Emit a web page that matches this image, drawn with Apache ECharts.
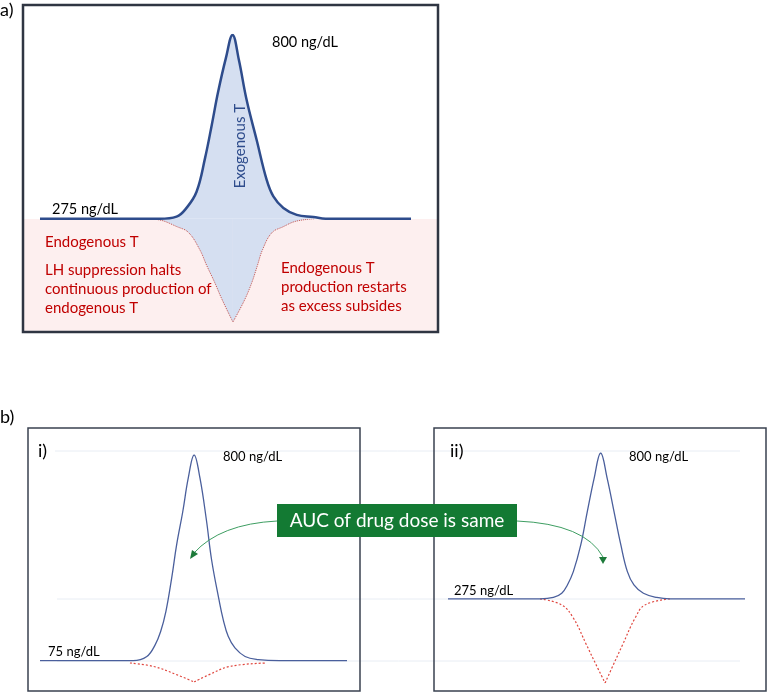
<!DOCTYPE html>
<html>
<head>
<meta charset="utf-8">
<script src="https://cdn.jsdelivr.net/npm/echarts@6/dist/echarts.min.js"></script>
<style>
  html, body { margin: 0; padding: 0; background: #fff; }
  #chart { width: 768px; height: 693px; }
</style>
</head>
<body>
<div id="chart"></div>
<script>
// panel a: total T with exogenous dose (time in arbitrary units, T in ng/dL)
const aExoT = [0, 32.3, 36.8, 39.5, 42.2, 44.5, 46.3, 48, 50.1, 51.9, 53.6, 55.7, 58.4, 61.1, 62.9, 65.6, 69.2, 73.7, 77, 100];
const aExoV = [275, 275, 281, 306, 352, 449, 543, 637, 734, 800, 729, 614, 500, 386, 339, 306, 286, 280, 275, 275];
// panel a: endogenous T suppressed during the peak
const aDipT = [28, 32, 37, 40, 43, 45, 47, 49, 52, 55, 57, 58.5, 60, 62.5, 65.5, 69, 74];
const aDipV = [275, 272, 252, 236, 188, 140, 95, 46, -20, 40, 90, 138, 187, 235, 252, 268, 275];

// panel b i) baseline 75 ng/dL
const iExoT = [0, 30.3, 34.8, 37.5, 39.3, 41, 42.9, 44.5, 46.5, 48.3, 50.2, 52.1, 54.2, 55.9, 58.3, 59.7, 61.3, 63.5, 66.8, 71.1, 78, 100];
const iExoV = [75, 75, 90, 131, 178, 248, 367, 483, 600, 719, 800, 719, 571, 430, 290, 219, 161, 120, 90, 79, 75, 75];
const iDipT = [29.3, 36.9, 44.5, 50.2, 55.1, 61.9, 73.8];
const iDipV = [67, 55, 26, 0, 26, 55, 67];

// panel b ii) baseline 275 ng/dL
const iiExoT = [0, 31, 35.5, 38.3, 40.2, 42.2, 44.7, 46.9, 49.2, 51.4, 53.6, 55.9, 58.2, 60.4, 62.6, 65.8, 70.3, 74.7, 100];
const iiExoV = [275, 275, 280, 295, 325, 373, 469, 589, 709, 800, 709, 589, 469, 373, 325, 295, 280, 275, 275];
const iiDipT = [31, 38.3, 42.2, 46.6, 49.3, 52.9, 56.2, 58.8, 63, 66.3, 74.7];
const iiDipV = [275, 253, 206, 110, 50, -28, 50, 110, 206, 253, 275];

const zip = (t, v) => t.map((x, i) => [x, v[i]]);
// the dips have a sharp bottom: draw each side as its own smooth line meeting at the minimum
function halves(t, v) {
  const k = v.indexOf(Math.min(...v));
  const pts = zip(t, v);
  return [pts.slice(0, k + 1), pts.slice(k)];
}

const FONT = 'Lato, "Open Sans", sans-serif';
const navy = '#2E4C8C';
const bLine = '#4A5F9C';
const red = '#C00000';
const fillBlue = '#D5DFF1';

const myChart = echarts.init(document.getElementById('chart'), null, { renderer: 'canvas' });

function hiddenX(idx) {
  return { gridIndex: idx, type: 'value', min: 0, max: 100, show: false };
}
function hiddenY(idx, min, max) {
  return { gridIndex: idx, type: 'value', min: min, max: max, show: false };
}
function txt(text, x, y, size, color) {
  return {
    type: 'text', x: x, y: y, z: 50,
    style: { text: text, fill: color || '#000', fontSize: size, fontFamily: FONT, textVerticalAlign: 'middle' }
  };
}

const graphic = [
  // pink endogenous zone + frame of panel a
  { type: 'rect', z: -10, shape: { x: 24, y: 219, width: 414, height: 113 }, style: { fill: '#FDEFEF' } },
  { type: 'rect', z: 40, shape: { x: 23, y: 5, width: 415, height: 327 }, style: { fill: 'none', stroke: '#2F3542', lineWidth: 2.5 } },
  // faint guide lines in b
  { type: 'line', z: -5, shape: { x1: 55, y1: 451, x2: 740, y2: 451 }, style: { stroke: '#E8EDF4', lineWidth: 1 } },
  { type: 'line', z: -5, shape: { x1: 57, y1: 599, x2: 740, y2: 599 }, style: { stroke: '#E8EDF4', lineWidth: 1 } },
  { type: 'line', z: -5, shape: { x1: 57, y1: 661, x2: 740, y2: 661 }, style: { stroke: '#E8EDF4', lineWidth: 1 } },
  // frames of panels b
  { type: 'rect', z: 40, shape: { x: 28, y: 428, width: 332, height: 263 }, style: { fill: 'none', stroke: '#3A4250', lineWidth: 1.5 } },
  { type: 'rect', z: 40, shape: { x: 434, y: 428, width: 332, height: 263 }, style: { fill: 'none', stroke: '#3A4250', lineWidth: 1.5 } },
  // AUC call-out
  { type: 'bezierCurve', z: 45, shape: { x1: 277, y1: 521, cpx1: 220, cpy1: 524, x2: 194, y2: 553 }, style: { stroke: '#3E9E62', lineWidth: 1, fill: 'none' } },
  { type: 'polygon', z: 45, shape: { points: [[190, 559], [192, 550], [198, 554]] }, style: { fill: '#1D7A3A' } },
  { type: 'bezierCurve', z: 45, shape: { x1: 517, y1: 521, cpx1: 585, cpy1: 524, x2: 603, y2: 557 }, style: { stroke: '#3E9E62', lineWidth: 1, fill: 'none' } },
  { type: 'polygon', z: 45, shape: { points: [[599, 557], [607, 557], [603, 564]] }, style: { fill: '#1D7A3A' } },
  { type: 'rect', z: 46, shape: { x: 277, y: 504, width: 240, height: 33 }, style: { fill: '#137A33' } },
  { type: 'text', x: 397, y: 521, z: 47,
    style: { text: 'AUC of drug dose is same', fill: '#fff', fontSize: 19, fontFamily: FONT, textAlign: 'center', textVerticalAlign: 'middle' } },
  // labels
  txt('a)', 0, 10, 18),
  txt('b)', 0, 417, 18),
  txt('800 ng/dL', 272, 42, 14.5),
  txt('275 ng/dL', 52, 209, 14.5),
  { type: 'text', x: 240, y: 146, z: 50, rotation: Math.PI / 2,
    style: { text: 'Exogenous T', fill: navy, fontSize: 15, fontFamily: FONT, textAlign: 'center', textVerticalAlign: 'middle' } },
  txt('Endogenous T', 45, 242, 15, red),
  txt('LH suppression halts', 45, 270, 15, red),
  txt('continuous production of', 45, 289, 15, red),
  txt('endogenous T', 45, 308, 15, red),
  txt('Endogenous T', 281, 268, 15, red),
  txt('production restarts', 281, 287, 15, red),
  txt('as excess subsides', 281, 306, 15, red),
  txt('i)', 38, 451, 18),
  txt('800 ng/dL', 223, 457, 13),
  txt('75 ng/dL', 48, 652, 13),
  txt('ii)', 450, 451, 18),
  txt('800 ng/dL', 629, 457, 13),
  txt('275 ng/dL', 454, 591, 13)
];

const SMOOTH = 0.4;
const series = [];

halves(aDipT, aDipV).forEach((d, i) => series.push({
  name: 'Endogenous T (a)', id: 'aDip' + i, type: 'line', xAxisIndex: 0, yAxisIndex: 0,
  data: d, smooth: SMOOTH, symbol: 'none', z: 2,
  lineStyle: { color: '#C0504D', width: 1, type: 'dotted' },
  areaStyle: { color: fillBlue, opacity: 1, origin: 275 }
}));
series.push({
  name: 'Exogenous T (a)', type: 'line', xAxisIndex: 0, yAxisIndex: 0,
  data: zip(aExoT, aExoV), smooth: SMOOTH, symbol: 'none', z: 3,
  lineStyle: { color: navy, width: 2.5 },
  areaStyle: { color: fillBlue, opacity: 1, origin: 275 }
});

[[1, iDipT, iDipV, iExoT, iExoV], [2, iiDipT, iiDipV, iiExoT, iiExoV]].forEach(([g, dt, dv, et, ev]) => {
  halves(dt, dv).forEach((d, i) => series.push({
    name: 'Endogenous T', id: 'dip' + g + i, type: 'line', xAxisIndex: g, yAxisIndex: g,
    data: d, smooth: SMOOTH, symbol: 'none',
    lineStyle: { color: '#E0473F', width: 1.2, type: [2, 2] }
  }));
  series.push({
    name: 'Total T', id: 'exo' + g, type: 'line', xAxisIndex: g, yAxisIndex: g,
    data: zip(et, ev), smooth: SMOOTH, symbol: 'none',
    lineStyle: { color: bLine, width: 1.3 }
  });
});

myChart.setOption({
  animation: false,
  backgroundColor: '#fff',
  grid: [
    { left: 40, right: 357, top: 35, bottom: 371 },
    { left: 40, right: 421, top: 455, bottom: 11 },
    { left: 448, right: 23, top: 453, bottom: 10 }
  ],
  xAxis: [hiddenX(0), hiddenX(1), hiddenX(2)],
  yAxis: [hiddenY(0, -20, 800), hiddenY(1, 0, 800), hiddenY(2, -28, 800)],
  graphic: graphic,
  series: series
});

window.addEventListener('resize', () => myChart.resize());
</script>
</body>
</html>
